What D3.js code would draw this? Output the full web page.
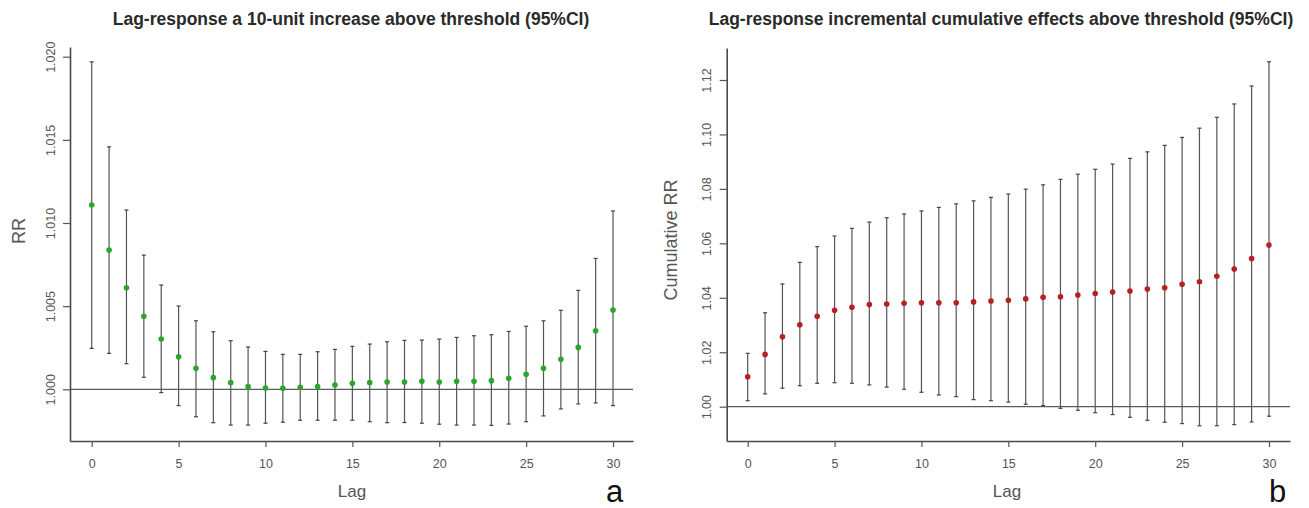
<!DOCTYPE html>
<html>
<head>
<meta charset="utf-8">
<script src="https://cdn.jsdelivr.net/npm/d3@7/dist/d3.min.js"></script>
<style>
  html, body { margin: 0; padding: 0; background: #fff; }
  svg { display: block; }
  text { font-family: "Liberation Sans", Arial, sans-serif; }
</style>
</head>
<body>
<svg id="chart" width="1309" height="508"></svg>
<script>
const lags = d3.range(0, 31);

// Panel a: lag-response RR
const rrEst = [1.01108,1.00837,1.00611,1.00439,1.00302,1.00196,1.00126,1.00070,1.00040,1.00016,
  1.00008,1.00006,1.00012,1.00016,1.00026,1.00036,1.00040,1.00044,1.00044,1.00048,
  1.00044,1.00048,1.00048,1.00052,1.00066,1.00090,1.00126,1.00180,1.00252,1.00352,1.00477];
const rrHigh = [1.01969,1.01458,1.01078,1.00807,1.00627,1.00501,1.00412,1.00346,1.00292,1.00254,
  1.00228,1.00210,1.00210,1.00226,1.00240,1.00258,1.00272,1.00286,1.00294,1.00296,
  1.00302,1.00312,1.00322,1.00328,1.00348,1.00379,1.00412,1.00475,1.00595,1.00787,1.01072];
const rrLow = [1.00246,1.00216,1.00154,1.00072,0.99980,0.99902,0.99835,0.99799,0.99785,0.99785,
  0.99796,0.99802,0.99814,0.99814,0.99814,0.99814,0.99805,0.99799,0.99800,0.99796,
  0.99790,0.99785,0.99785,0.99783,0.99791,0.99805,0.99840,0.99882,0.99912,0.99918,0.99902];

// Panel b: cumulative RR
const cumEst = [1.0110,1.0192,1.0257,1.0301,1.0332,1.0354,1.0365,1.0375,1.0377,1.0380,
  1.0382,1.0382,1.0382,1.0385,1.0388,1.0391,1.0396,1.0402,1.0404,1.0410,
  1.0416,1.0421,1.0425,1.0432,1.0437,1.0450,1.0459,1.0479,1.0506,1.0544,1.0594];
const cumHigh = [1.0196,1.0345,1.0451,1.0530,1.0588,1.0627,1.0655,1.0678,1.0694,1.0708,
  1.0719,1.0732,1.0745,1.0756,1.0769,1.0781,1.0799,1.0815,1.0835,1.0854,
  1.0872,1.0891,1.0912,1.0936,1.0960,1.0989,1.1023,1.1063,1.1112,1.1178,1.1267];
const cumLow = [1.0022,1.0047,1.0068,1.0077,1.0086,1.0088,1.0086,1.0080,1.0072,1.0064,
  1.0053,1.0043,1.0037,1.0026,1.0022,1.0017,1.0009,1.0004,0.9994,0.9987,
  0.9978,0.9971,0.9961,0.9950,0.9943,0.9938,0.9930,0.9930,0.9934,0.9944,0.9965];

const xTicks = [0, 5, 10, 15, 20, 25, 30];
const yTicksA = [1.000, 1.005, 1.010, 1.015, 1.020];
const yTicksB = [1.00, 1.02, 1.04, 1.06, 1.08, 1.10, 1.12];

const svg = d3.select("#chart");

function panel(cfg) {
  const g = svg.append("g");
  const x = d3.scaleLinear().domain(cfg.xDomain).range([cfg.left, cfg.right]);
  const y = d3.scaleLinear().domain(cfg.yDomain).range([cfg.bottom, cfg.top]);

  // title
  g.append("text").attr("x", cfg.titleX).attr("y", 24.5)
    .attr("text-anchor", "middle").attr("font-size", "17.5px").attr("font-weight", "bold")
    .attr("fill", "#2a2a2a").text(cfg.title);

  // reference line at 1
  g.append("line").attr("x1", cfg.left).attr("x2", cfg.right)
    .attr("y1", y(1)).attr("y2", y(1)).attr("stroke", "#333").attr("stroke-width", 1);

  // y axis
  const ya = g.append("g").attr("transform", `translate(${cfg.left},0)`)
    .call(d3.axisLeft(y).tickValues(cfg.yTicks).tickFormat(d3.format(cfg.yFmt)).tickSize(7).tickSizeOuter(0));
  ya.selectAll("text").attr("transform", "rotate(-90)").attr("x", 0).attr("y", -15.5)
    .attr("dy", 0).attr("text-anchor", "middle").attr("font-size", "12.5px").attr("fill", "#555");

  // x axis
  const xa = g.append("g").attr("transform", `translate(0,${cfg.bottom})`)
    .call(d3.axisBottom(x).tickValues(xTicks).tickSize(6).tickSizeOuter(0));
  xa.selectAll("text").attr("y", 26.5).attr("dy", 0).attr("font-size", "12.5px").attr("fill", "#555");

  [ya, xa].forEach(a => {
    a.select(".domain").attr("stroke", "#4a4a4a").attr("stroke-width", 1.6);
    a.selectAll(".tick line").attr("stroke", "#555").attr("stroke-width", 1.2);
  });

  // error bars
  const eb = g.append("g");
  eb.selectAll("line.v").data(lags).join("line").attr("class", "v")
    .attr("x1", d => x(d)).attr("x2", d => x(d))
    .attr("y1", d => y(cfg.low[d])).attr("y2", d => y(cfg.high[d]))
    .attr("stroke", "#555").attr("stroke-width", 1.2);
  eb.selectAll("line.hi").data(lags).join("line").attr("class", "hi")
    .attr("x1", d => x(d) - 2).attr("x2", d => x(d) + 2)
    .attr("y1", d => y(cfg.high[d])).attr("y2", d => y(cfg.high[d]))
    .attr("stroke", "#444").attr("stroke-width", 1.2);
  eb.selectAll("line.lo").data(lags).join("line").attr("class", "lo")
    .attr("x1", d => x(d) - 2).attr("x2", d => x(d) + 2)
    .attr("y1", d => y(cfg.low[d])).attr("y2", d => y(cfg.low[d]))
    .attr("stroke", "#444").attr("stroke-width", 1.2);

  // points
  g.append("g").selectAll("circle").data(lags).join("circle")
    .attr("cx", d => x(d)).attr("cy", d => y(cfg.est[d])).attr("r", 2.8)
    .attr("fill", cfg.color);

  // axis labels
  g.append("text").attr("x", cfg.xLabX).attr("y", 497).attr("text-anchor", "middle")
    .attr("font-size", "17px").attr("fill", "#555").text("Lag");
  g.append("text").attr("transform", `translate(${cfg.yLabX},${cfg.yLabY}) rotate(-90)`)
    .attr("text-anchor", "middle").attr("font-size", "18px").attr("fill", "#555").text(cfg.yLab);

  // panel letter
  g.append("text").attr("x", cfg.letterX).attr("y", 502).attr("text-anchor", "middle")
    .attr("font-size", "31px").attr("fill", "#111").text(cfg.letter);
}

panel({
  title: "Lag-response a 10-unit increase above threshold (95%CI)", titleX: 351,
  left: 70, right: 633, top: 47, bottom: 441,
  xDomain: [-1.249, 31.15], yDomain: [0.996891, 1.020583],
  yTicks: yTicksA, yFmt: ".3f",
  est: rrEst, low: rrLow, high: rrHigh, color: "#2ca52c",
  xLabX: 352, yLab: "RR", yLabX: 25, yLabY: 231,
  letter: "a", letterX: 614.5
});

panel({
  title: "Lag-response incremental cumulative effects above threshold (95%CI)", titleX: 1001,
  left: 726.7, right: 1290, top: 48, bottom: 441,
  xDomain: [-1.208, 31.21], yDomain: [0.98740, 1.13175],
  yTicks: yTicksB, yFmt: ".2f",
  est: cumEst, low: cumLow, high: cumHigh, color: "#b52025",
  xLabX: 1007, yLab: "Cumulative RR", yLabX: 677, yLabY: 240,
  letter: "b", letterX: 1277.5
});
</script>
</body>
</html>
